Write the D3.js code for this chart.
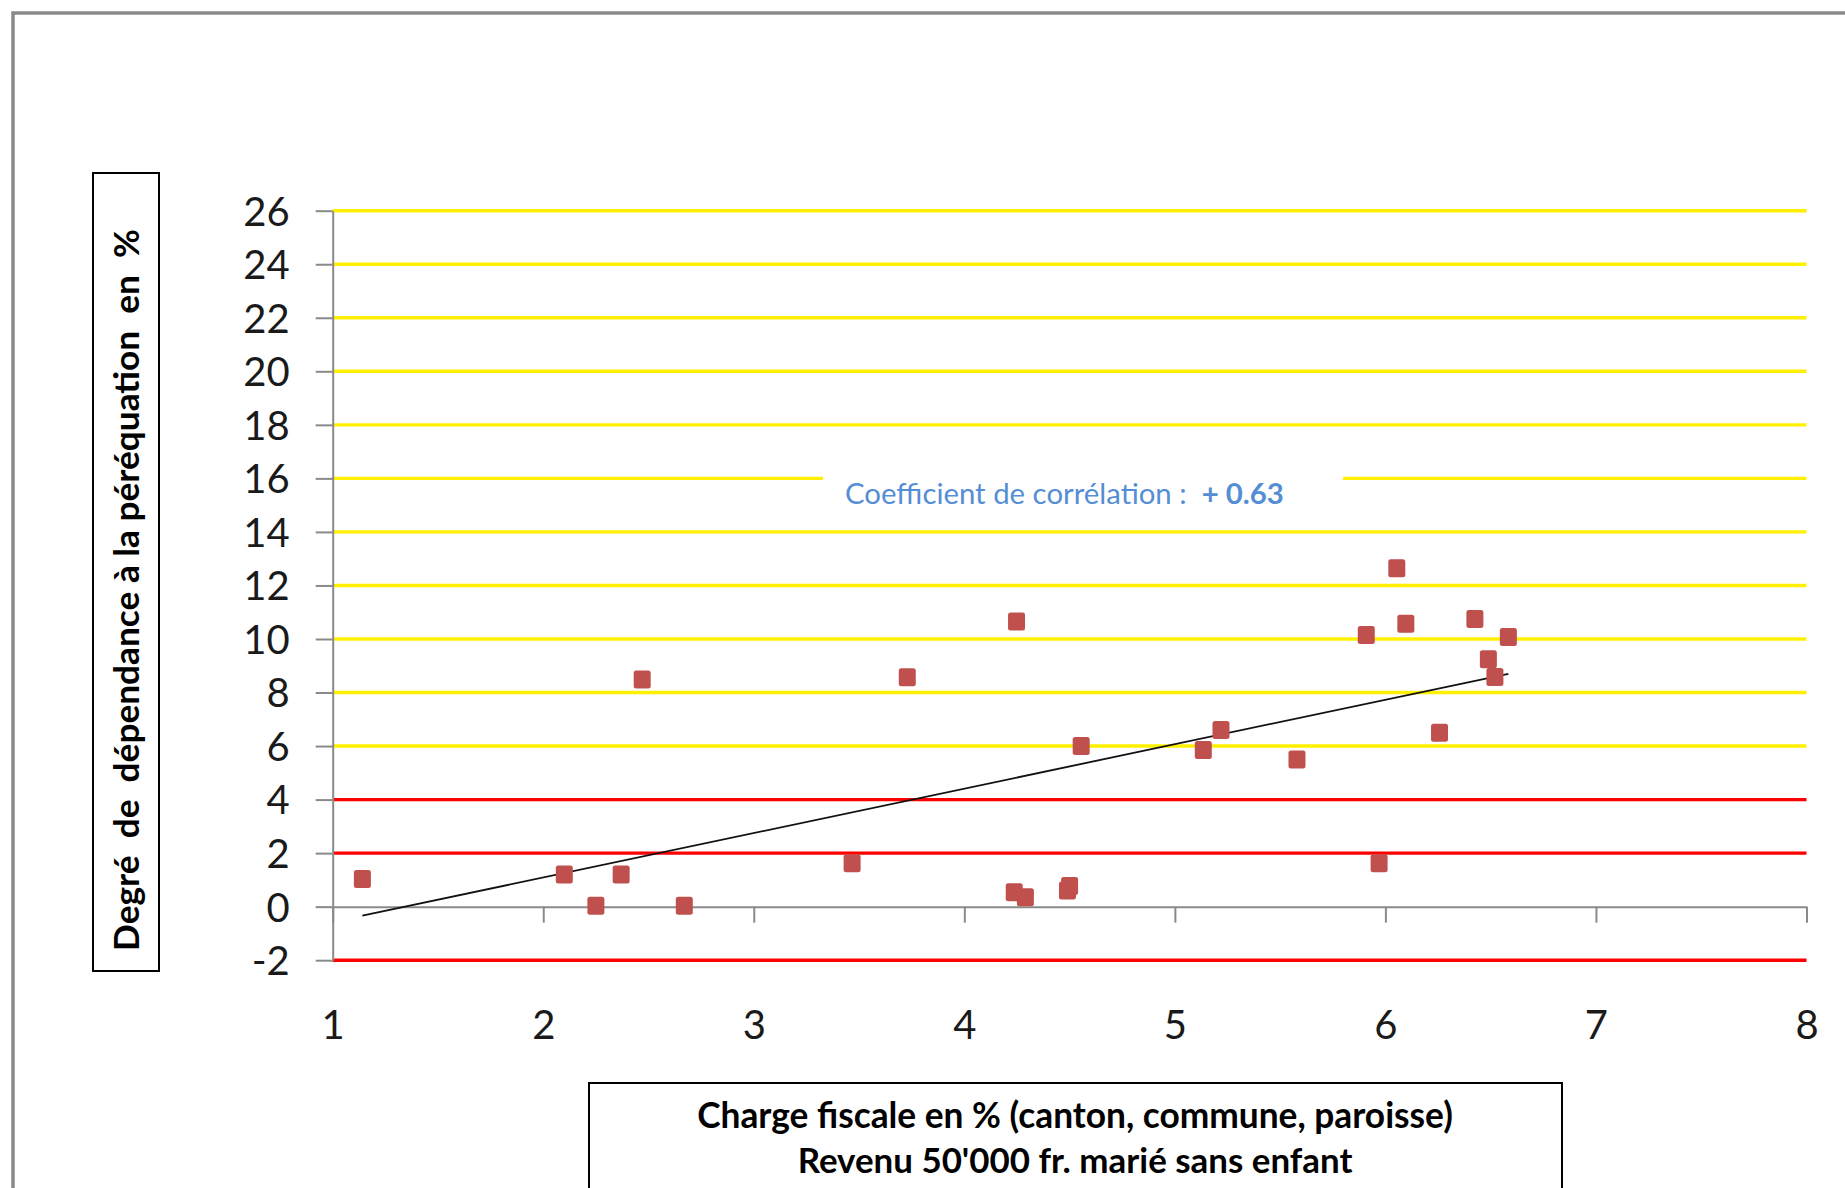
<!DOCTYPE html>
<html>
<head>
<meta charset="utf-8">
<script src="https://cdn.jsdelivr.net/npm/d3@7"></script>
<style>
  html, body { margin: 0; padding: 0; background: #fff; }
  svg { display: block; }
  text { font-family: Lato, "Open Sans", sans-serif; }
</style>
</head>
<body>
<svg id="chart" width="1845" height="1188"></svg>
<script>
// ---- data ----
const xValues = [1.141, 2.10, 2.25, 2.37, 2.47, 2.67, 3.467, 3.729, 4.248, 4.237, 4.29, 4.49, 4.50, 4.555,
                 5.135, 5.219, 5.58, 5.909, 5.97, 6.054, 6.097, 6.257, 6.425, 6.489, 6.52, 6.584];
const yValues = [1.03, 1.20, 0.03, 1.20, 8.49, 0.03, 1.62, 8.57, 10.65, 0.54, 0.35, 0.60, 0.77, 6.00,
                 5.85, 6.60, 5.50, 10.15, 1.62, 12.64, 10.57, 6.50, 10.75, 9.24, 8.58, 10.07];
const xTicks = [1, 2, 3, 4, 5, 6, 7, 8];
const yTicks = [-2, 0, 2, 4, 6, 8, 10, 12, 14, 16, 18, 20, 22, 24, 26];
const yellowLines = [6, 8, 10, 12, 14, 16, 18, 20, 22, 24, 26];
const redLines = [-2, 2, 4];
const yTitle = "Degré  de  dépendance à la péréquation  en  %";
const xTitle1 = "Charge fiscale en % (canton, commune, paroisse)";
const xTitle2 = "Revenu 50'000 fr. marié sans enfant";
const corrLabel = "Coefficient de corrélation :  ";
const corrValue = "+ 0.63";

const svg = d3.select("#chart");
const x = d3.scaleLinear().domain([1, 8]).range([332.7, 1806.5]);
const y = d3.scaleLinear().domain([-2, 26]).range([960.2, 210.7]);
const plain = d => String(d);

function fit(sel, target) {
  const w = sel.node().getComputedTextLength();
  const fs = parseFloat(sel.style("font-size"));
  sel.style("font-size", (fs * target / w) + "px");
}

// outer frame
svg.append("path").attr("d", "M13,1188 L13,13 L1845,13")
  .attr("fill", "none").attr("stroke", "#8a8a8a").attr("stroke-width", 3.5);

// gridlines
svg.append("g").selectAll("line").data(yellowLines).join("line")
  .attr("x1", x(1)).attr("x2", x(8)).attr("y1", d => y(d)).attr("y2", d => y(d))
  .attr("stroke", "#FFF000").attr("stroke-width", 3.4);
svg.append("g").selectAll("line").data(redLines).join("line")
  .attr("x1", x(1)).attr("x2", x(8)).attr("y1", d => y(d)).attr("y2", d => y(d))
  .attr("stroke", "#FF0000").attr("stroke-width", 3.4);

// correlation label (interrupts the 16 line)
svg.append("rect").attr("x", 823).attr("y", y(16) - 8).attr("width", 520).attr("height", 40).attr("fill", "#fff");
const corr = svg.append("text").attr("x", 845).attr("y", 504)
  .style("font-size", "29px").attr("fill", "#558ED5").style("white-space", "pre");
corr.append("tspan").text(corrLabel);
corr.append("tspan").attr("font-weight", "bold").text(corrValue);
fit(corr, 439);

// y axis
const yAxis = svg.append("g").attr("transform", `translate(${x(1)},0)`)
  .call(d3.axisLeft(y).tickValues(yTicks).tickFormat(plain).tickSize(17).tickSizeOuter(0).tickPadding(26));
yAxis.select(".domain").attr("stroke", "#8a8a8a").attr("stroke-width", 2);
yAxis.selectAll(".tick line").attr("stroke", "#8a8a8a").attr("stroke-width", 2);
yAxis.selectAll(".tick text").style("font-size", "40px").attr("fill", "#1a1a1a")
  .attr("dy", "0.36em").style("font-family", "Lato, sans-serif");

// x axis
const xAxis = svg.append("g").attr("transform", `translate(0,${y(0)})`)
  .call(d3.axisBottom(x).tickValues(xTicks).tickFormat(plain).tickSize(16).tickSizeOuter(0).tickPadding(88));
xAxis.select(".domain").attr("stroke", "#8a8a8a").attr("stroke-width", 2);
xAxis.selectAll(".tick line").attr("stroke", "#8a8a8a").attr("stroke-width", 2);
xAxis.selectAll(".tick text").style("font-size", "40px").attr("fill", "#1a1a1a")
  .style("font-family", "Lato, sans-serif");

// trend line (least squares from the data)
const n = xValues.length;
const mx = d3.mean(xValues), my = d3.mean(yValues);
let sxy = 0, sxx = 0;
for (let i = 0; i < n; i++) { sxy += (xValues[i] - mx) * (yValues[i] - my); sxx += (xValues[i] - mx) ** 2; }
const slope = sxy / sxx, intercept = my - slope * mx;
const xr = d3.extent(xValues);
svg.append("line")
  .attr("x1", x(xr[0])).attr("y1", y(intercept + slope * xr[0]))
  .attr("x2", x(xr[1])).attr("y2", y(intercept + slope * xr[1]))
  .attr("stroke", "#111").attr("stroke-width", 1.8);

// markers
const pts = xValues.map((v, i) => [v, yValues[i]]);
svg.append("g").selectAll("rect").data(pts).join("rect")
  .attr("x", d => x(d[0]) - 8.5).attr("y", d => y(d[1]) - 9)
  .attr("width", 17).attr("height", 18).attr("rx", 2.5)
  .attr("fill", "#C0504D");

// y title box
svg.append("rect").attr("x", 93).attr("y", 173).attr("width", 66).attr("height", 798)
  .attr("fill", "#fff").attr("stroke", "#000").attr("stroke-width", 2);
const yt = svg.append("text").attr("transform", "translate(126,590) rotate(-90)")
  .attr("text-anchor", "middle").attr("dy", "0.36em").attr("font-weight", "bold")
  .style("font-size", "30px").style("white-space", "pre").attr("fill", "#000").text(yTitle);
fit(yt, 722);

// x title box
svg.append("rect").attr("x", 589).attr("y", 1083).attr("width", 973).attr("height", 200)
  .attr("fill", "#fff").attr("stroke", "#000").attr("stroke-width", 2);
const xt1 = svg.append("text").attr("x", 1075).attr("y", 1128).attr("text-anchor", "middle")
  .attr("font-weight", "bold").style("font-size", "28px").attr("fill", "#000").text(xTitle1);
fit(xt1, 756);
const xt2 = svg.append("text").attr("x", 1075).attr("y", 1173).attr("text-anchor", "middle")
  .attr("font-weight", "bold").style("font-size", "28px").attr("fill", "#000").text(xTitle2);
fit(xt2, 555);
</script>
</body>
</html>
